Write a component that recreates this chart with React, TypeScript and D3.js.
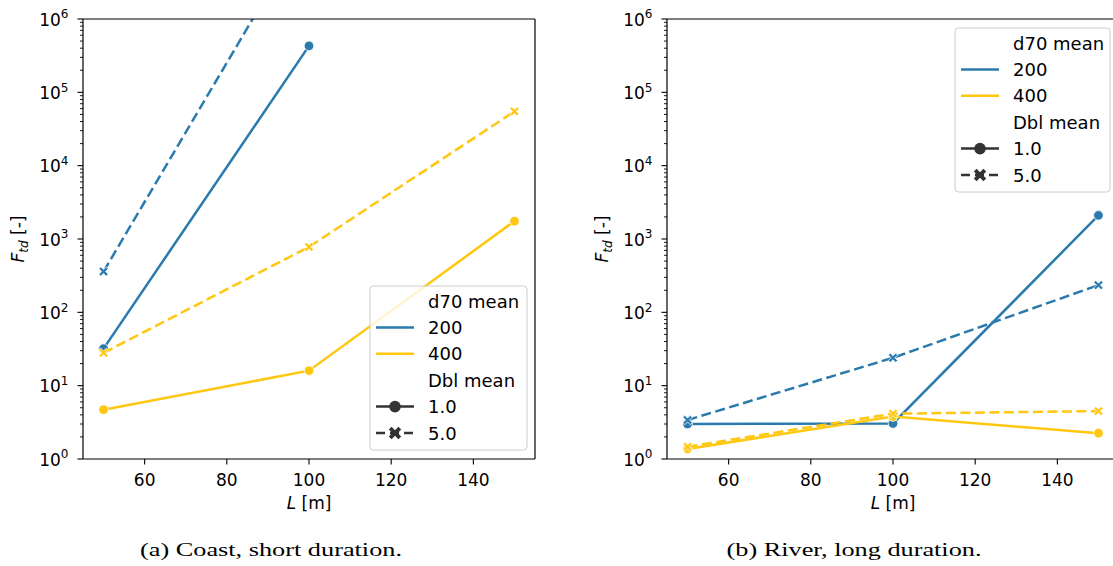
import React from 'react';
import * as d3 from 'd3';

// ---------- data ----------
const L_VALUES = [50, 100, 150];
const D70_LEVELS = ['200', '400'];
const DBL_LEVELS = ['1.0', '5.0'];
const X_TICKS = [60, 80, 100, 120, 140];
const Y_TICK_EXPONENTS = [0, 1, 2, 3, 4, 5, 6];

// (a) Coast, short duration
const coastD200Dbl1 = [32, 4.3e5, null];
const coastD200Dbl5 = [360, 2.0e7, null];
const coastD400Dbl1 = [4.7, 16, 1750];
const coastD400Dbl5 = [28, 780, 5.5e4];

// (b) River, long duration
const riverD200Dbl1 = [3.0, 3.05, 2100];
const riverD200Dbl5 = [3.4, 24, 235];
const riverD400Dbl1 = [1.37, 3.8, 2.25];
const riverD400Dbl5 = [1.47, 4.15, 4.5];

const CAPTIONS = ['(a) Coast, short duration.', '(b) River, long duration.'];

// ---------- style ----------
const COLORS: Record<string, string> = { '200': '#2a7aad', '400': '#ffc70f' };
const FONT = 'DejaVu Sans, sans-serif';
const TICK_FS = 17;
const SUP_FS = 12;
const LEG_FS = 18;
const LW = 2.5;
const W = 1113;
const H = 566;
const TOP = 19;
const BOTTOM = 459;

type Series = { d70: string; dbl: string; values: (number | null)[] };

const panels = [
  {
    x0: 83,
    x1: 535,
    caption: CAPTIONS[0],
    captionX: 271,
    captionW: 262,
    legend: { x: 370, y: 286, w: 157 },
    series: [
      { d70: '200', dbl: '1.0', values: coastD200Dbl1 },
      { d70: '200', dbl: '5.0', values: coastD200Dbl5 },
      { d70: '400', dbl: '1.0', values: coastD400Dbl1 },
      { d70: '400', dbl: '5.0', values: coastD400Dbl5 },
    ] as Series[],
  },
  {
    x0: 667,
    x1: 1119,
    caption: CAPTIONS[1],
    captionX: 854,
    captionW: 255,
    legend: { x: 955, y: 28, w: 155 },
    series: [
      { d70: '200', dbl: '1.0', values: riverD200Dbl1 },
      { d70: '200', dbl: '5.0', values: riverD200Dbl5 },
      { d70: '400', dbl: '1.0', values: riverD400Dbl1 },
      { d70: '400', dbl: '5.0', values: riverD400Dbl5 },
    ] as Series[],
  },
];

function xMarkerPath(a: number, w: number) {
  const pts = [
    [-w, -a], [w, -a], [w, -w], [a, -w], [a, w], [w, w],
    [w, a], [-w, a], [-w, w], [-a, w], [-a, -w], [-w, -w],
  ];
  const c = Math.SQRT1_2;
  return (
    'M' +
    pts
      .map(([x, y]) => `${((x - y) * c).toFixed(2)},${((x + y) * c).toFixed(2)}`)
      .join('L') +
    'Z'
  );
}

const X_PATH = xMarkerPath(5.2, 1.4);
const X_PATH_LEG = xMarkerPath(6.8, 2.0);

function Marker({ dbl, x, y, color, legend }: { dbl: string; x: number; y: number; color: string; legend?: boolean }) {
  if (dbl === '1.0') {
    return <circle cx={x} cy={y} r={legend ? 5.8 : 4.8} fill={color} stroke="#fff" strokeWidth={legend ? 0 : 0.8} />;
  }
  return (
    <path
      d={legend ? X_PATH_LEG : X_PATH}
      transform={`translate(${x},${y})`}
      fill={color}
      stroke="#fff"
      strokeWidth={legend ? 0 : 0.8}
    />
  );
}

function Panel({ p, idx }: { p: (typeof panels)[number]; idx: number }) {
  const x = d3.scaleLinear().domain([45, 155]).range([p.x0, p.x1]);
  const y = d3.scaleLog().domain([1, 1e6]).range([BOTTOM, TOP]);
  const clipId = `clip-${idx}`;
  const minorTicks: number[] = [];
  for (let e = 0; e < 6; e++) for (let m = 2; m <= 9; m++) minorTicks.push(m * Math.pow(10, e));

  const lineGen = d3
    .line<[number, number | null]>()
    .defined((d) => d[1] != null)
    .x((d) => x(d[0]))
    .y((d) => y(d[1] as number));

  const midX = (p.x0 + p.x1) / 2;
  const lg = p.legend;
  const rowY = (i: number) => lg.y + 15 + i * 26.4;
  const legRows = [
    { kind: 'title', label: 'd70 mean' },
    { kind: 'hue', label: D70_LEVELS[0] },
    { kind: 'hue', label: D70_LEVELS[1] },
    { kind: 'title', label: 'Dbl mean' },
    { kind: 'style', label: DBL_LEVELS[0] },
    { kind: 'style', label: DBL_LEVELS[1] },
  ];
  const legH = rowY(5) + 17 - lg.y;

  return (
    <g>
      <defs>
        <clipPath id={clipId}>
          <rect x={p.x0} y={TOP} width={p.x1 - p.x0} height={BOTTOM - TOP} />
        </clipPath>
      </defs>
      {/* lines */}
      <g clipPath={`url(#${clipId})`}>
        {p.series.map((s, i) => {
          const pts = L_VALUES.map((l, j) => [l, s.values[j]] as [number, number | null]);
          return (
            <g key={i}>
              <path
                d={lineGen(pts) || ''}
                fill="none"
                stroke={COLORS[s.d70]}
                strokeWidth={LW}
                strokeDasharray={s.dbl === '5.0' ? '10,4.5' : undefined}
              />
              {pts
                .filter((d) => d[1] != null)
                .map((d, j) => (
                  <Marker key={j} dbl={s.dbl} x={x(d[0])} y={y(d[1] as number)} color={COLORS[s.d70]} />
                ))}
            </g>
          );
        })}
      </g>
      {/* spines */}
      <g stroke="#000" strokeWidth={1.2} fill="none">
        <line x1={p.x0} x2={p.x0} y1={TOP} y2={BOTTOM} />
        <line x1={p.x0} x2={p.x1} y1={BOTTOM} y2={BOTTOM} />
        <line x1={p.x0} x2={p.x1} y1={TOP} y2={TOP} />
        <line x1={p.x1} x2={p.x1} y1={TOP} y2={BOTTOM} />
      </g>
      {/* x ticks */}
      {X_TICKS.map((t) => (
        <g key={t}>
          <line x1={x(t)} x2={x(t)} y1={BOTTOM} y2={BOTTOM + 5.5} stroke="#000" strokeWidth={1.1} />
          <text x={x(t)} y={BOTTOM + 26.5} textAnchor="middle" fontFamily={FONT} fontSize={TICK_FS} fill="#000">
            {t}
          </text>
        </g>
      ))}
      {/* y ticks */}
      {minorTicks.map((t) => (
        <line key={t} x1={p.x0 - 3} x2={p.x0} y1={y(t)} y2={y(t)} stroke="#000" strokeWidth={0.9} />
      ))}
      {Y_TICK_EXPONENTS.map((e) => {
        const ty = y(Math.pow(10, e));
        return (
          <g key={e}>
            <line x1={p.x0 - 5.5} x2={p.x0} y1={ty} y2={ty} stroke="#000" strokeWidth={1.1} />
            <text x={p.x0 - 14.5} y={ty + 6.8} textAnchor="end" fontFamily={FONT} fontSize={TICK_FS} fill="#000">
              10
              <tspan fontSize={SUP_FS} dy={-7.5}>
                {e}
              </tspan>
            </text>
          </g>
        );
      })}
      {/* axis labels */}
      <text x={midX} y={509} textAnchor="middle" fontFamily={FONT} fontSize={TICK_FS} fill="#000">
        <tspan fontStyle="italic">L</tspan> [m]
      </text>
      <text
        transform={`translate(${p.x0 - 59},${(TOP + BOTTOM) / 2}) rotate(-90)`}
        textAnchor="middle"
        fontFamily={FONT}
        fontSize={TICK_FS}
        fill="#000"
      >
        <tspan fontStyle="italic">F</tspan>
        <tspan fontStyle="italic" fontSize={SUP_FS} dy={4}>
          td
        </tspan>
        <tspan dy={-4}> [-]</tspan>
      </text>
      {/* legend */}
      <g>
        <rect
          x={lg.x}
          y={lg.y}
          width={lg.w}
          height={legH}
          rx={3.5}
          fill="#fff"
          fillOpacity={0.8}
          stroke="#cccccc"
          strokeWidth={1}
        />
        {legRows.map((r, i) => {
          const ry = rowY(i);
          const hx0 = lg.x + 6;
          const hx1 = lg.x + 44;
          let handle = null;
          if (r.kind === 'hue') {
            handle = <line x1={hx0} x2={hx1} y1={ry} y2={ry} stroke={COLORS[r.label]} strokeWidth={LW} />;
          } else if (r.kind === 'style') {
            handle = (
              <g>
                <line
                  x1={hx0}
                  x2={hx1}
                  y1={ry}
                  y2={ry}
                  stroke="#333333"
                  strokeWidth={LW}
                  strokeDasharray={r.label === '5.0' ? '9,5' : undefined}
                />
                <Marker dbl={r.label} x={(hx0 + hx1) / 2} y={ry} color="#333333" legend />
              </g>
            );
          }
          return (
            <g key={i}>
              {handle}
              <text x={lg.x + 58} y={ry + 6.5} fontFamily={FONT} fontSize={LEG_FS} fill="#000">
                {r.label}
              </text>
            </g>
          );
        })}
      </g>
      {/* caption */}
      <text
        x={p.captionX}
        y={556}
        textAnchor="middle"
        fontFamily="Liberation Serif, DejaVu Serif, serif"
        fontSize={19.5}
        textLength={p.captionW}
        lengthAdjust="spacingAndGlyphs"
        fill="#000"
      >
        {p.caption}
      </text>
    </g>
  );
}

export default function App() {
  return (
    <div style={{ position: 'absolute', left: 0, top: 0, width: W, height: H, background: '#fff' }}>
      <svg width={W} height={H} viewBox={`0 0 ${W} ${H}`} style={{ display: 'block' }}>
        <rect x={0} y={0} width={W} height={H} fill="#fff" />
        {panels.map((p, i) => (
          <Panel key={i} p={p} idx={i} />
        ))}
      </svg>
    </div>
  );
}
